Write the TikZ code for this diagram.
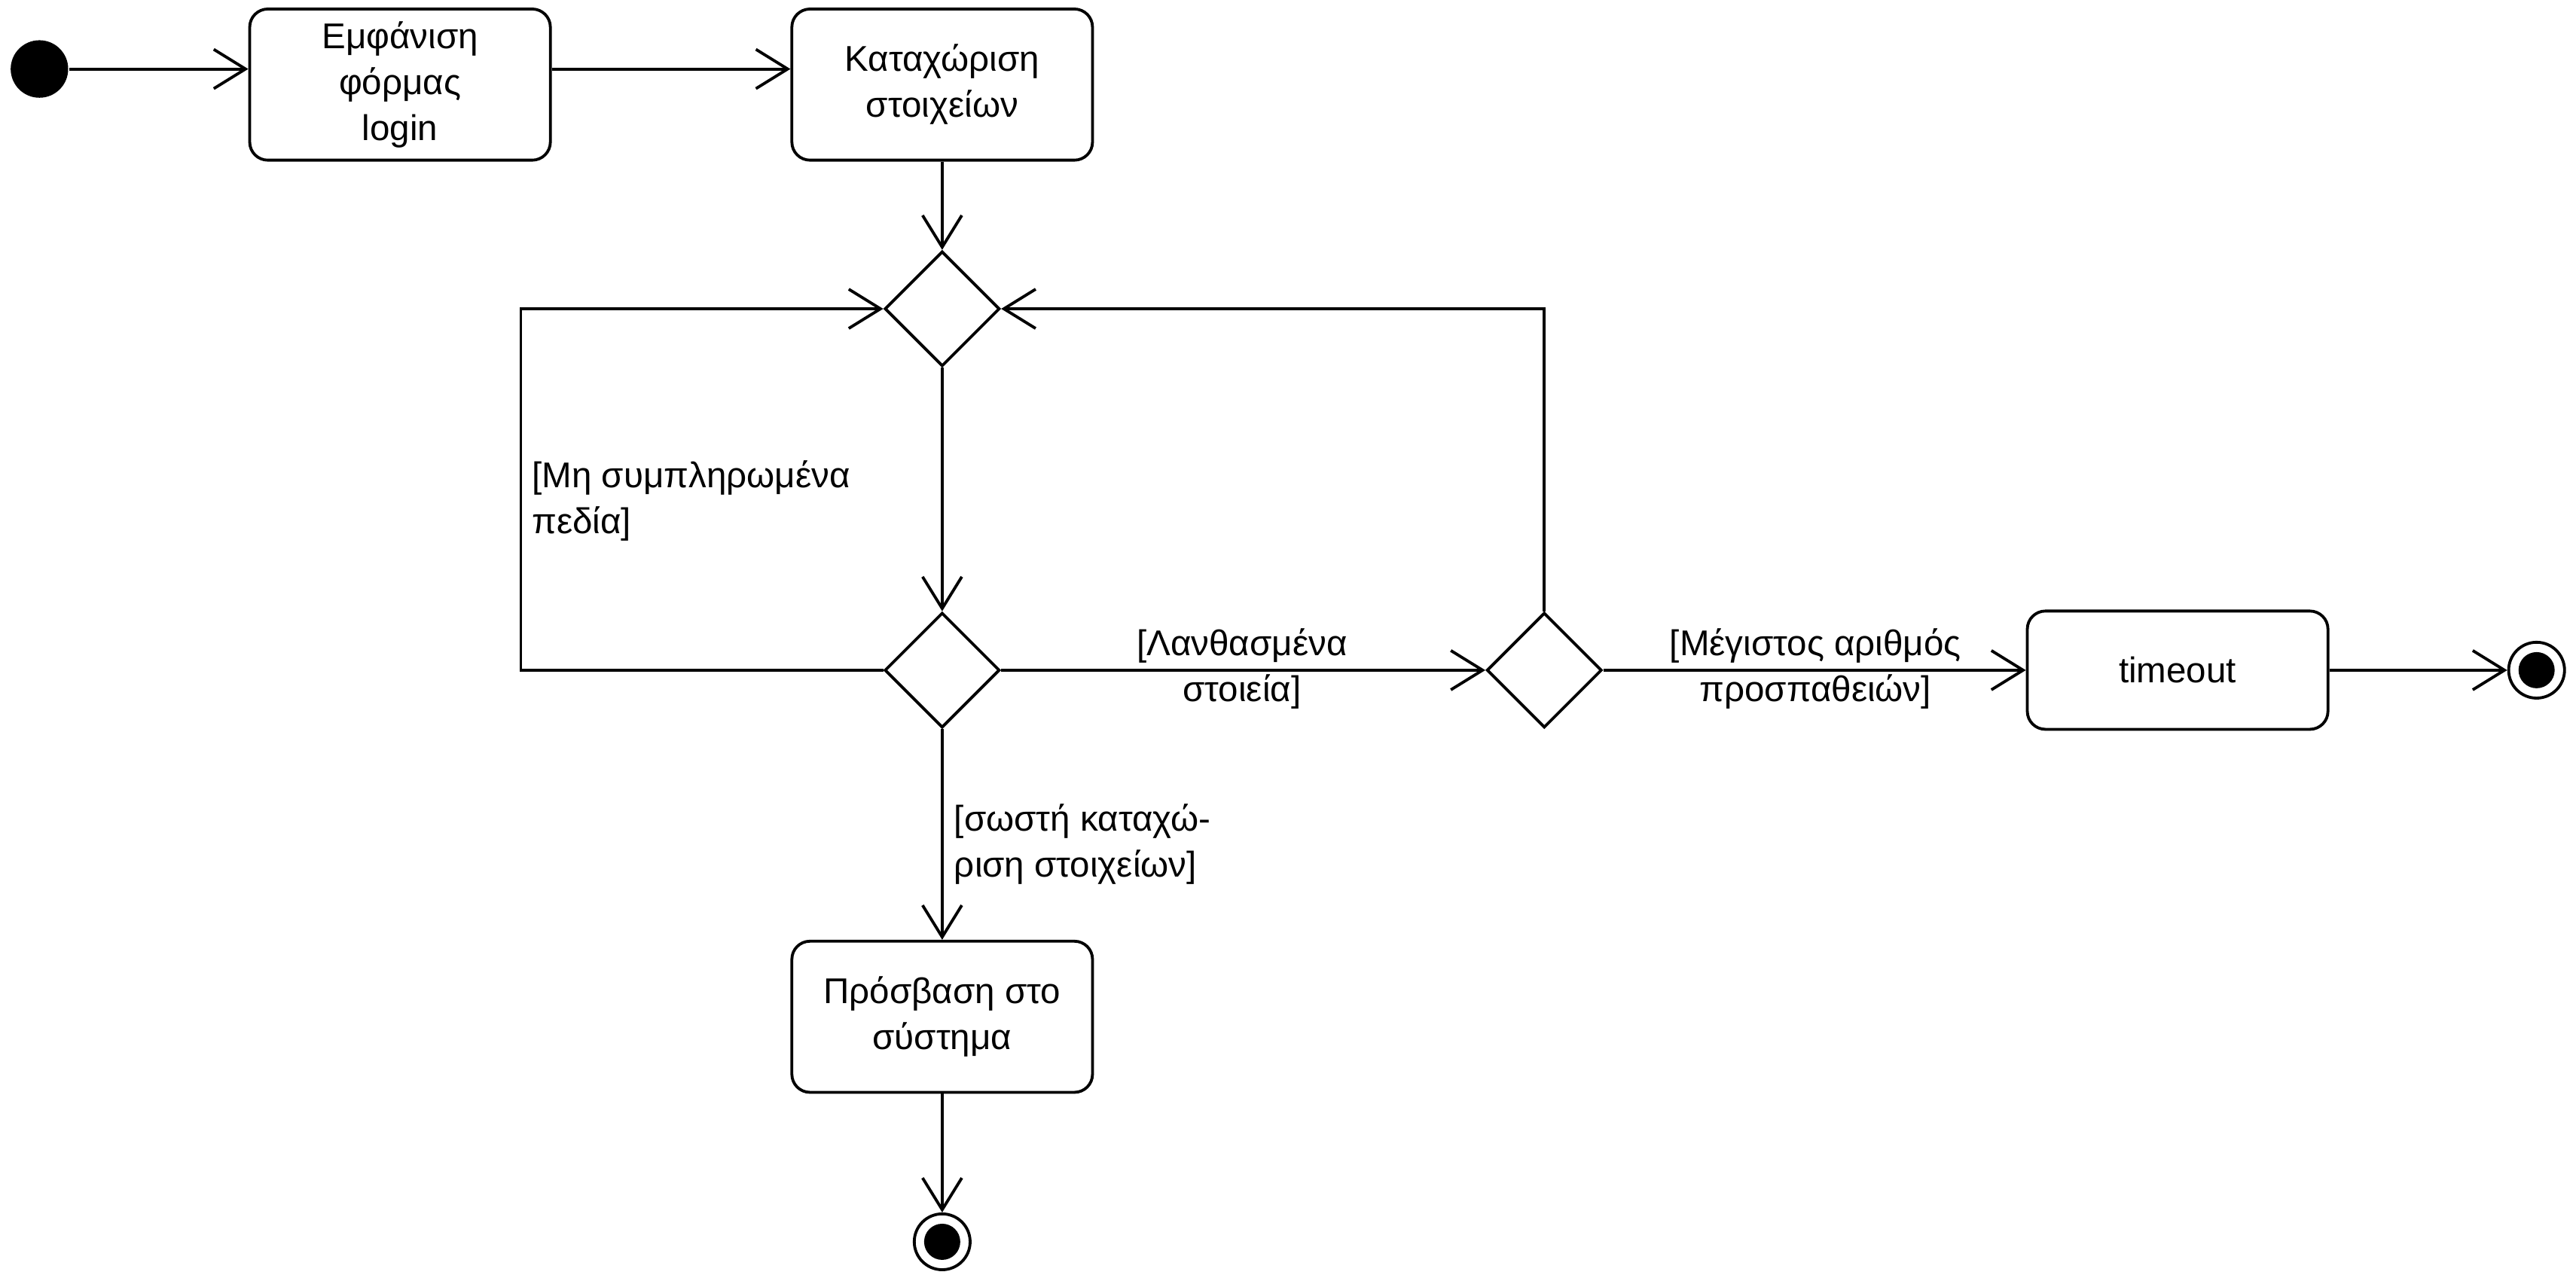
\documentclass[tikz,border=0pt]{standalone}
\usepackage{fontspec}
\setmainfont{Liberation Sans}
\usetikzlibrary{arrows.meta,shapes.geometric}

\begin{document}
\begin{tikzpicture}[
    line width=1pt,
    every node/.style={font=\fontsize{12.4}{15.9}\selectfont},
    action/.style={draw,rounded corners=0.22cm,minimum width=3.66cm,minimum height=1.84cm,align=center,inner sep=2pt},
    decision/.style={draw,diamond,minimum width=1.4cm,minimum height=1.4cm,inner sep=0pt},
    initial/.style={circle,fill=black,minimum size=0.7cm,inner sep=0pt},
    final/.style={circle,draw,minimum size=0.68cm,inner sep=0pt,
      path picture={\fill (path picture bounding box.center) circle (0.22cm);}},
    guard/.style={inner sep=0pt},
    flow/.style={-{Straight Barb[length=11pt,width=13.6pt]}}
  ]
  \useasboundingbox (0,0) rectangle (31.36,-15.59);

  \node[initial] (start) at (0.48,-0.84) {};
  \node[action] (showform) at (4.87,-1.03) {Εμφάνιση\\φόρμας\\login};
  \node[action] (enterdata) at (11.47,-1.03) {Καταχώριση\\στοιχείων};
  \node[decision] (merge) at (11.47,-3.76) {};
  \node[decision] (check) at (11.47,-8.16) {};
  \node[decision] (tries) at (18.8,-8.16) {};
  \node[action,minimum height=1.44cm] (timeout) at (26.51,-8.16) {timeout};
  \node[final] (endtimeout) at (30.88,-8.16) {};
  \node[action] (access) at (11.47,-12.38) {Πρόσβαση στο\\σύστημα};
  \node[final] (endaccess) at (11.47,-15.12) {};

  % guards
  \node[guard,anchor=west,align=left] (gempty) at (6.46,-6.1) {[Μη συμπληρωμένα\\πεδία]};
  \node[guard,align=center] (gwrong) at (15.12,-8.14) {[Λανθασμένα\\στοιεία]};
  \node[guard,align=center] (gmax) at (22.1,-8.14) {[Μέγιστος αριθμός\\προσπαθειών]};
  \node[guard,anchor=west,align=left] (gright) at (11.6,-10.28) {[σωστή καταχώ-\\ριση στοιχείων]};

  \draw[flow] (start) -- (start -| showform.west);
  \draw[flow] (showform.east |- start) -- (enterdata.west |- start);
  \foreach \a/\b in {enterdata/merge,merge/check,check/access,access/endaccess,
                     check/tries,tries/timeout,timeout/endtimeout} {
    \draw[flow] (\a) -- (\b);
  }

  \coordinate (loopleft) at (6.34,-8.16);
  \draw[flow] (check.west) -- (loopleft) |- (merge.west);
  \draw[flow] (tries.north) |- (merge.east);
\end{tikzpicture}
\end{document}
